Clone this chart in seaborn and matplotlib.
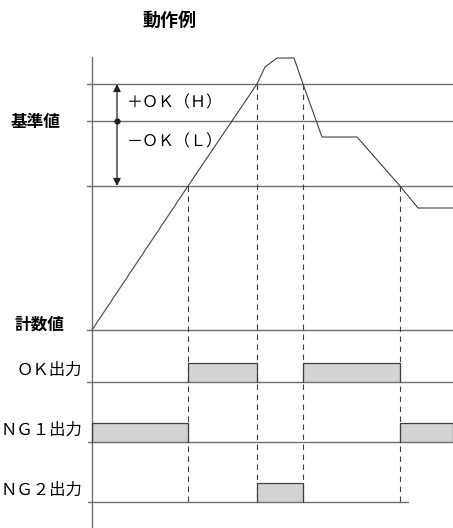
import numpy as np
import matplotlib
matplotlib.use("Agg")
import matplotlib.pyplot as plt
import seaborn as sns

# levels (vertical positions in picture units, y grows downward)
level_h = 84          # +OK (H)
level_ref = 121       # 基準値
level_l = 186         # -OK (L)
count_base = 330      # 計数値 baseline

# count value curve over time
curve_t = [92, 188, 257, 265, 277, 294, 303, 322, 357, 400, 418, 453]
curve_v = [330, 186, 84, 67, 58, 58, 84, 137, 137, 186, 208, 208]

# switching times (curve crossing H / L)
switch_t = [188, 257, 303, 400]

# output signals: (baseline, high level, list of on-intervals)
out_names = ["ＯＫ出力", "ＮＧ１出力", "ＮＧ２出力"]
out_base = [382, 442, 502]
out_high = [363, 423, 483]
out_on = [[(188, 257), (303, 400)],
          [(92, 188), (400, 453)],
          [(257, 303)]]
out_start = [87, 88, 88]
out_end = [453, 453, 408]

sns.set_theme(style="white")
plt.rcParams["font.family"] = ["Noto Sans CJK JP", "DejaVu Sans"]

line_c = "#6e6e6e"
dark_c = "#404040"
fill_c = "#d3d3d3"

fig = plt.figure(figsize=(4.53, 5.28), dpi=100)
ax = fig.add_axes([0, 0, 1, 1])
ax.set_xlim(0, 453)
ax.set_ylim(528, 0)
ax.axis("off")

# vertical time axis
ax.plot([92, 92], [57, 527], color=line_c, lw=1.0)

# horizontal reference lines
for y in [level_h, level_ref, level_l, count_base]:
    ax.plot([87, 453], [y, y], color=line_c, lw=1.0)

# count curve
sns.lineplot(x=curve_t, y=curve_v, sort=False, estimator=None,
             color=dark_c, lw=0.8, ax=ax)

# dashed switching lines
dash_top = [level_l, level_h, level_h, level_l]
for t, top in zip(switch_t, dash_top):
    ax.plot([t, t], [top, 502], color=dark_c, lw=0.8, ls=(0, (5, 4)))

# outputs
for name, b, h, ons, x0, x1 in zip(out_names, out_base, out_high,
                                    out_on, out_start, out_end):
    ax.plot([x0, x1], [b, b], color=line_c, lw=1.0)
    for a, e in ons:
        ax.fill_between([a, e], [b, b], [h, h], color=fill_c, lw=0)
        ax.plot([a, a, e, e], [b, h, h, b], color=dark_c, lw=0.9)
    ax.text(82, b - 3, name, ha="right", va="bottom", fontsize=11.8,
            color="#000000")

# tolerance arrows
ax.annotate("", xy=(117, level_h), xytext=(117, level_ref),
            arrowprops=dict(arrowstyle="-|>", color="#222222", lw=0.9,
                            mutation_scale=11, shrinkA=0, shrinkB=0))
ax.annotate("", xy=(117, level_l), xytext=(117, level_ref),
            arrowprops=dict(arrowstyle="-|>", color="#222222", lw=0.9,
                            mutation_scale=11, shrinkA=0, shrinkB=0))
ax.plot([117], [level_ref], "o", color="#222222", ms=3.5)

ax.text(127, 103, "＋ＯＫ（Ｈ）", ha="left", va="center", fontsize=11.5,
        color="#000000")
ax.text(127, 142, "－ＯＫ（Ｌ）", ha="left", va="center", fontsize=11.5,
        color="#000000")

ax.text(36, level_ref + 1, "基準値", ha="center", va="center", fontsize=12,
        fontweight="bold", color="#000000")
ax.text(39, 325, "計数値", ha="center", va="center", fontsize=12,
        fontweight="bold", color="#000000")
ax.text(169, 20, "動作例", ha="center", va="center", fontsize=13,
        fontweight="bold", color="#000000")

fig.savefig("out.png", dpi=100)
